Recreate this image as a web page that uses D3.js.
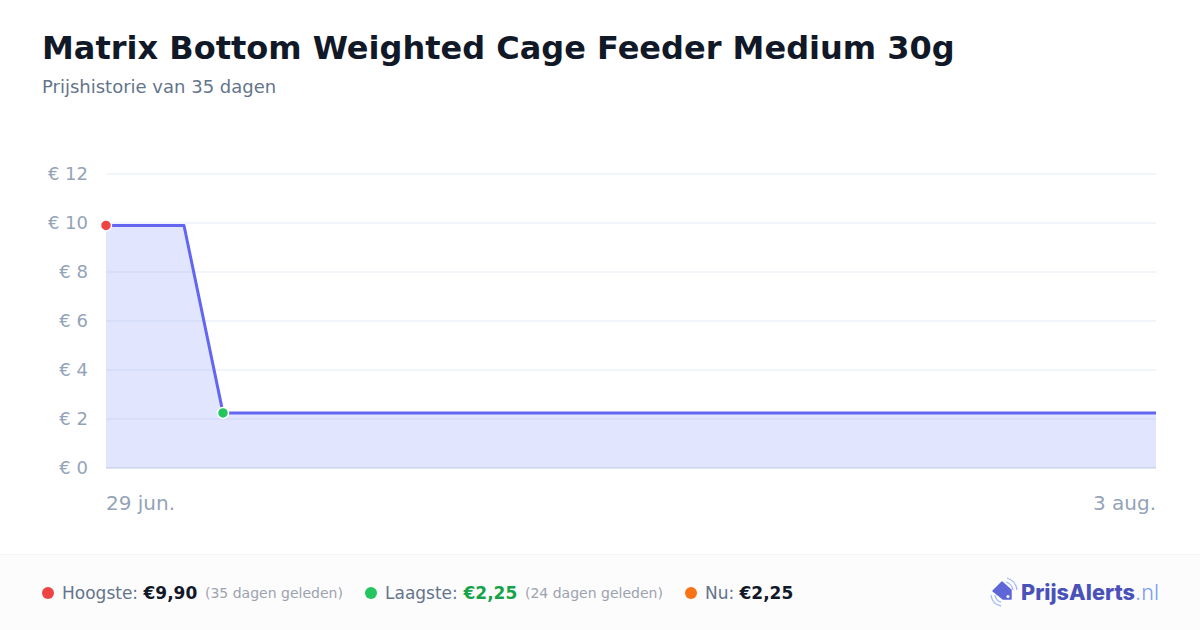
<!DOCTYPE html>
<html><head><meta charset="utf-8">
<script src="https://cdn.jsdelivr.net/npm/d3@7"></script>
<style>html,body{margin:0;padding:0;background:#fff}svg{display:block}text{font-family:"DejaVu Sans",sans-serif}</style>
</head><body><svg id="c" width="1200" height="630"></svg>
<script>
const days=[0,2.6,3.9,35];
const prices=[9.90,9.90,2.25,2.25];
const yTicks=[0,2,4,6,8,10,12];
const xLabels=["29 jun.","3 aug."];
const titleText="Matrix Bottom Weighted Cage Feeder Medium 30g";
const subtitleText="Prijshistorie van 35 dagen";

const svg=d3.select("#c");
const x=d3.scaleLinear().domain([0,35]).range([106,1156]);
const y=d3.scaleLinear().domain([0,12]).range([468,174]);

svg.append("text").attr("x",42).attr("y",59).attr("font-size",32).attr("font-weight",700).attr("fill","#111827").text(titleText);
svg.append("text").attr("x",42).attr("y",93).attr("font-size",18).attr("fill","#64748b").text(subtitleText);

svg.selectAll(".g").data(yTicks).join("line")
 .attr("x1",x(0)).attr("x2",x(35)).attr("y1",d=>y(d)).attr("y2",d=>y(d))
 .attr("stroke",d=>d===0?"#e2e8f0":"#f1f5f9").attr("stroke-width",2);
svg.selectAll(".yl").data(yTicks).join("text")
 .attr("x",88).attr("y",d=>y(d)+6).attr("text-anchor","end").attr("font-size",18).attr("fill","#94a3b8").text(d=>"€ "+d);

const pts=days.map((d,i)=>[d,prices[i]]);
svg.append("path").datum(pts).attr("d",d3.area().x(d=>x(d[0])).y0(y(0)).y1(d=>y(d[1]))).attr("fill","#7088fb").attr("fill-opacity",0.21);
svg.append("path").datum(pts).attr("d",d3.line().x(d=>x(d[0])).y(d=>y(d[1]))).attr("fill","none").attr("stroke","#6366f1").attr("stroke-width",3).attr("stroke-linejoin","round");

[[0,"#ef4444"],[2,"#22c55e"]].forEach(([i,col])=>{
 svg.append("circle").attr("cx",x(days[i])).attr("cy",y(prices[i])).attr("r",5.5).attr("fill",col).attr("stroke","#fff").attr("stroke-width",1.5);
});

svg.append("text").attr("x",106).attr("y",510).attr("font-size",20).attr("fill","#94a3b8").text(xLabels[0]);
svg.append("text").attr("x",1156).attr("y",510).attr("text-anchor","end").attr("font-size",20).attr("fill","#94a3b8").text(xLabels[1]);

// footer
svg.append("rect").attr("x",0).attr("y",554).attr("width",1200).attr("height",76).attr("fill","#fcfcfd");
svg.append("line").attr("x1",0).attr("x2",1200).attr("y1",554.5).attr("y2",554.5).attr("stroke","#f1f5f9");

const legend=[
 {cx:48,col:"#ef4444",lx:62,label:"Hoogste:",vx:143.5,val:"€9,90",vc:"#111827",nx:205,note:"(35 dagen geleden)"},
 {cx:371,col:"#22c55e",lx:385,label:"Laagste:",vx:463.5,val:"€2,25",vc:"#16a34a",nx:525,note:"(24 dagen geleden)"},
 {cx:691,col:"#f97316",lx:705,label:"Nu:",vx:739.5,val:"€2,25",vc:"#111827"}
];
legend.forEach(l=>{
 svg.append("circle").attr("cx",l.cx).attr("cy",593).attr("r",6).attr("fill",l.col);
 svg.append("text").attr("x",l.lx).attr("y",599).attr("font-size",17).attr("fill","#64748b").text(l.label);
 svg.append("text").attr("x",l.vx).attr("y",599).attr("font-size",17).attr("font-weight",700).attr("fill",l.vc).text(l.val);
 if(l.note) svg.append("text").attr("x",l.nx).attr("y",598).attr("font-size",14).attr("fill","#9ca3af").text(l.note);
});

// logo
const lg=svg.append("g");
lg.append("path").attr("d","M993 591 L1002 582 L1011 590 L1011 599 L1003 599 Z").attr("fill","#5f67d8").attr("stroke","#5f67d8").attr("stroke-width",1.5).attr("stroke-linejoin","round");
lg.append("circle").attr("cx",1008).attr("cy",596.5).attr("r",1.5).attr("fill","#fff");
lg.append("path").attr("d","M1007 578 Q1016 581 1017 590").attr("fill","none").attr("stroke","#a5b8fc").attr("stroke-width",1.3);
lg.append("path").attr("d","M1006 582 Q1012 584 1013 590").attr("fill","none").attr("stroke","#a5b8fc").attr("stroke-width",1.3);
lg.append("path").attr("d","M991 595 Q992 604 1001 606").attr("fill","none").attr("stroke","#a5b8fc").attr("stroke-width",1.3);
lg.append("path").attr("d","M995 595 Q996 601 1001 602").attr("fill","none").attr("stroke","#a5b8fc").attr("stroke-width",1.3);
const t=lg.append("text").attr("x",1021).attr("y",600).attr("font-size",21.7).style("font-family","Inter");
t.append("tspan").attr("font-weight",800).attr("fill","#4a51b8").text("PrijsAlerts");
t.append("tspan").attr("font-weight",300).attr("fill","#7f9cf5").text(".nl");
</script></body></html>
